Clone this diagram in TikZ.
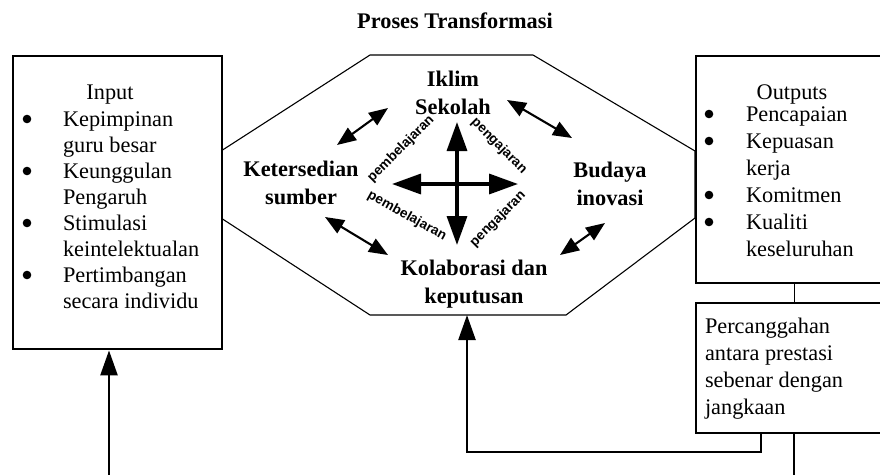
\documentclass[tikz,border=0pt]{standalone}
\usepackage{fontspec}
\setmainfont{Liberation Serif}
\newfontfamily\labelsans{Liberation Sans}
\usetikzlibrary{arrows.meta,calc}

\newcommand\boxtext{\fontsize{22.3}{26}\selectfont}
\newcommand\boxtextwide{\fontsize{22.3}{27}\selectfont}
\newcommand\keytext{\fontsize{22.3}{28.5}\selectfont\bfseries}

\tikzset{
  heavybox/.style={draw, line width=2.4pt, fill=white, rectangle, inner sep=0pt, anchor=north west},
  octline/.style={line width=1.1pt, line join=miter},
  plain/.style={inner sep=0pt, outer sep=0pt},
  keylabel/.style={plain, anchor=base, font=\keytext},
  smalllabel/.style={plain, anchor=center, font=\labelsans\bfseries\fontsize{13.6}{15}\selectfont},
  crossarrow/.style={line width=3.4pt, {Triangle[width=20pt,length=29pt]}-{Triangle[width=20pt,length=29pt]}},
  linkarrow/.style={line width=2.1pt, {Triangle[width=15pt,length=19pt]}-{Triangle[width=15pt,length=19pt]}},
  flow/.style={line width=2.4pt, -{Triangle[width=17pt,length=25pt]}},
  feed/.style={line width=2.4pt},
  joint/.style={line width=1.2pt}
}

\begin{document}
\begin{tikzpicture}[x=1pt,y=-1pt]
\useasboundingbox (0,0) rectangle (880,474);
\clip (0,0) rectangle (880,474);

% title
\node[plain, anchor=base, font=\fontsize{22.3}{26}\selectfont\bfseries] (title) at (455,28) {Proses Transformasi};

% transformation octagon
\draw[octline] (370,55) -- (533,55) -- (695,151) -- (695,218) -- (566,315)
  -- (370,315) -- (221,218) -- (221,151) -- cycle;
\coordinate (procin) at (467,315);

% input, outputs and gap boxes
\node[heavybox, minimum width=209pt, minimum height=293pt] (input) at (12,55) {};
\node[heavybox, minimum width=196pt, minimum height=227pt] (outputs) at (695,55) {};
\node[heavybox, minimum width=196pt, minimum height=130pt] (gap) at (695,302) {};

% input text
\node[plain, anchor=base, font=\boxtext] (inhead) at (110,99) {Input};
\node[plain, anchor=base west, font=\boxtext] (inlist) at (63,126)
  {\begin{tabular}[t]{@{}l@{}}Kepimpinan\\guru besar\\Keunggulan\\Pengaruh\\Stimulasi\\keintelektualan\\Pertimbangan\\secara individu\end{tabular}};
\foreach \y in {126,178,230,282} \fill (27,\y-7) circle (4.3pt);

% outputs text
\node[plain, anchor=base, font=\boxtext] (outhead) at (792,99) {Outputs};
\node[plain, anchor=base west, font=\boxtextwide] (outlist) at (746,121)
  {\begin{tabular}[t]{@{}l@{}}Pencapaian\\Kepuasan\\kerja\\Komitmen\\Kualiti\\keseluruhan\end{tabular}};
\foreach \y in {121,148,202,229} \fill (709,\y-7) circle (4.3pt);

% gap text
\node[plain, anchor=base west, font=\boxtextwide] (gaptext) at (705,333)
  {\begin{tabular}[t]{@{}l@{}}Percanggahan\\antara prestasi\\sebenar dengan\\jangkaan\end{tabular}};

% key factors inside the octagon
\node[keylabel] (iklim) at (453,86) {\begin{tabular}[t]{@{}c@{}}Iklim\\Sekolah\end{tabular}};
\node[keylabel] (sumber) at (301,176) {\begin{tabular}[t]{@{}c@{}}Ketersedian\\sumber\end{tabular}};
\node[keylabel] (budaya) at (610,177) {\begin{tabular}[t]{@{}c@{}}Budaya\\inovasi\end{tabular}};
\node[keylabel] (kolab) at (474,275) {\begin{tabular}[t]{@{}c@{}}Kolaborasi dan\\keputusan\end{tabular}};

% central cross
\coordinate (hubN) at (457,122);
\coordinate (hubS) at (457,245);
\coordinate (hubW) at (392,184);
\coordinate (hubE) at (518,184);
\draw[crossarrow] (hubN) -- (hubS);
\draw[crossarrow] (hubW) -- (hubE);

% links between factors
\coordinate (a1) at (337,145); \coordinate (b1) at (388,108);
\coordinate (a2) at (507,100); \coordinate (b2) at (572,138);
\coordinate (a3) at (325,217); \coordinate (b3) at (388,255);
\coordinate (a4) at (560,255); \coordinate (b4) at (605,223);
\draw[linkarrow] (a1) -- (b1);
\draw[linkarrow] (a2) -- (b2);
\draw[linkarrow] (a3) -- (b3);
\draw[linkarrow] (a4) -- (b4);

% process labels
\node[smalllabel, rotate=45] (lrnTL) at (401,149) {pembelajaran};
\node[smalllabel, rotate=-45] (tchTR) at (499,146) {pengajaran};
\node[smalllabel, rotate=-29] (lrnBL) at (407,216) {pembelajaran};
\node[smalllabel, rotate=45] (tchBR) at (498,219) {pengajaran};

% connections
\draw[joint] (outputs.south) -- (gap.north);
\coordinate (exitR) at (793,480);
\draw[feed] (gap.south) -- (gap.south |- exitR);
\coordinate (fbturn) at (467,452);
\draw[flow] ([xshift=-33pt]gap.south) |- (fbturn) -- (procin);
\coordinate (entryL) at (109,480);
\draw[flow] (entryL) -- (entryL |- input.south);
\end{tikzpicture}
\end{document}
